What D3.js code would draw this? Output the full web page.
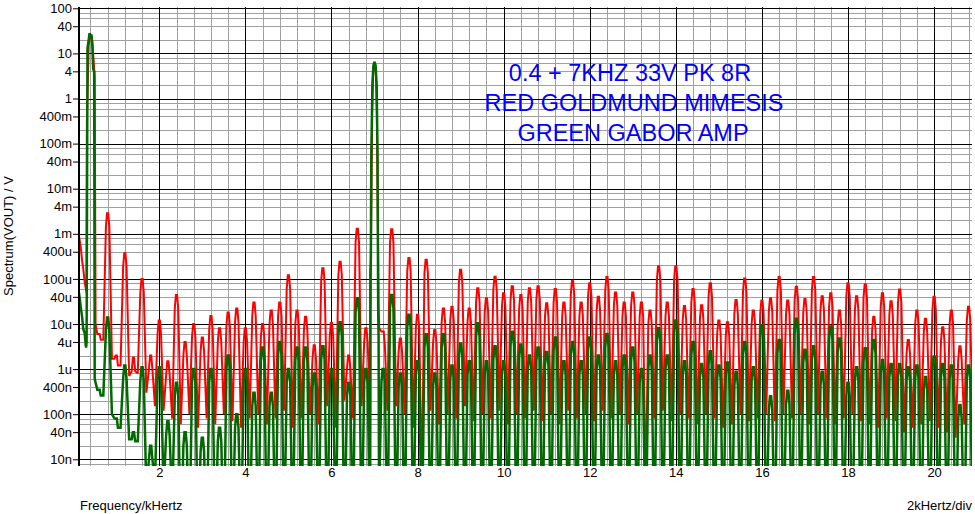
<!DOCTYPE html>
<html>
<head>
<meta charset="utf-8">
<script src="https://cdn.jsdelivr.net/npm/d3@7"></script>
<style>
  html, body { margin: 0; padding: 0; background: #fff; }
  svg { display: block; font-family: "Liberation Sans", Arial, sans-serif; }
</style>
</head>
<body>
<svg id="chart" width="975" height="514"></svg>
<script>
// ---------------- DATA ----------------
// spectral line positions (kHz): harmonics of 0.4 kHz and 7 kHz intermod products
const freqs = [
  0.2,0.4,0.6,0.8,1.0,1.2,1.4,1.6,1.8,2.0,2.2,2.4,2.6,2.8,3.0,3.2,3.4,3.6,3.8,4.0,
  4.2,4.4,4.6,4.8,5.0,5.2,5.4,5.6,5.8,6.0,6.2,6.4,6.6,6.8,7.0,7.2,7.4,7.6,7.8,8.0,
  8.2,8.4,8.6,8.8,9.0,9.2,9.4,9.6,9.8,10.0,10.2,10.4,10.6,10.8,11.0,11.2,11.4,11.6,11.8,12.0,
  12.2,12.4,12.6,12.8,13.0,13.2,13.4,13.6,13.8,14.0,14.2,14.4,14.6,14.8,15.0,15.2,15.4,15.6,15.8,16.0,
  16.2,16.4,16.6,16.8,17.0,17.2,17.4,17.6,17.8,18.0,18.2,18.4,18.6,18.8,19.0,19.2,19.4,19.6,19.8,20.0,
  20.2,20.4,20.6,20.8
];
// RED: Goldmund Mimesis — peak level (V) at each line
const redPeaks = [
  2.2e-4,26,6e-6,2.85e-3,2e-6,3.7e-4,1.8e-6,1.0e-4,2e-6,1.2e-5,
  1.5e-6,4.4e-5,4e-6,1.0e-5,5e-6,1.5e-5,8e-6,1.8e-5,2.2e-5,8e-6,
  3e-5,1e-5,2e-5,3e-5,1.2e-4,2e-5,1.45e-5,3.4e-6,1.72e-4,1.05e-5,
  2.4e-4,2e-6,1.3e-3,8e-6,6.5,6.8e-6,1.26e-3,4.8e-6,2.9e-4,1.6e-5,
  2.65e-4,7.4e-6,2.2e-5,2.4e-5,1.6e-4,2.2e-5,6.2e-5,3.7e-5,1.12e-4,4.8e-5,
  6.9e-5,4.4e-5,6.2e-5,6.9e-5,2.9e-5,6e-5,3e-5,9e-5,3e-5,8e-5,
  4e-5,1.1e-4,5e-5,3e-5,5e-5,3e-5,2e-5,1.9e-4,3e-5,1.9e-4,
  2.5e-5,6e-5,2.6e-5,8e-5,1.2e-5,1.1e-5,3.4e-5,1.02e-4,2e-5,3.3e-5,
  3.7e-5,1.1e-4,3.3e-5,6.7e-5,3.6e-5,1.1e-4,4.1e-5,4.8e-5,2e-5,8e-5,
  4.1e-5,7.6e-5,1.45e-5,4.8e-5,3.2e-5,5.8e-5,4.4e-6,2e-5,1.3e-5,4e-5,
  8.5e-6,2e-5,3.2e-6,2.4e-5
];
// RED: minimum level (V) between each line and the next
const redValleys = [
  5e-5,8e-6,4.5e-6,1.7e-6,1.2e-6,7e-7,8e-7,3e-7,1.5e-7,1.2e-7,
  8e-8,6e-8,1e-7,5e-8,8e-8,6e-8,1e-7,7e-8,5e-8,8e-8,
  1e-7,6e-8,8e-8,1.2e-7,5e-8,8e-8,1e-7,6e-8,1.5e-7,5e-8,
  2e-7,8e-8,1.5e-7,1e-7,1e-7,1.2e-7,1.5e-7,1e-7,5e-8,2e-9,
  1.2e-7,6e-8,1e-7,8e-8,1.5e-7,7e-8,1e-7,8e-8,1.2e-7,6e-8,
  1e-7,8e-8,1.2e-7,7e-8,1e-7,6e-8,1.2e-7,8e-8,1e-7,7e-8,
  1.2e-7,8e-8,1e-7,6e-8,1e-7,2e-9,8e-8,1.2e-7,7e-8,1e-7,
  8e-8,6e-8,1e-7,8e-8,5e-8,6e-8,1e-7,7e-8,8e-8,1e-7,
  7e-8,1e-7,8e-8,1e-7,6e-8,1e-7,8e-8,6e-8,8e-8,1e-7,
  7e-8,6e-8,5e-8,8e-8,7e-8,4e-8,5e-8,6e-8,7e-8,5e-8,
  4e-8,3e-8,6e-8,5e-8
];
// GREEN: Gabor amp — peak level (V) at each line
const greenPeaks = [
  1.7e-5,28,3.5e-7,1.4e-5,8e-8,1.2e-6,4e-8,1.1e-6,2e-8,1.1e-6,
  7e-8,5e-7,4e-8,1e-6,3e-8,1e-6,5e-8,2e-6,1e-7,1e-6,
  3e-7,3e-6,3e-7,4e-6,1e-6,3e-6,3e-6,8e-7,3.2e-6,1e-6,
  1.1e-5,5e-7,3.7e-5,1e-6,6.5,1e-6,4.4e-5,8e-7,1.6e-5,1.5e-6,
  5.9e-6,8e-7,5.9e-6,1.2e-6,3.7e-6,1.5e-6,1.04e-5,1.5e-6,3.2e-6,1.5e-6,
  6.7e-6,3.5e-6,2e-6,3e-6,2.4e-6,5e-6,1.5e-6,4e-6,1.5e-6,5e-6,
  2e-6,6e-6,1.5e-6,2e-6,3e-6,1e-6,2e-6,8e-6,2e-6,1.2e-5,
  1.5e-6,4e-6,1.3e-6,2.5e-6,1.2e-6,1.4e-6,8.7e-7,4e-6,1.1e-6,9.5e-6,
  2.5e-7,4.4e-6,3.3e-7,1.3e-5,2.7e-6,3.2e-6,8.7e-7,8.8e-6,4.8e-6,5e-7,
  1.1e-6,2.9e-6,4.4e-6,1.6e-6,1.3e-6,1.3e-6,1.1e-6,1.2e-6,6.7e-7,1.9e-6,
  1.3e-6,1.2e-6,1.6e-7,1.2e-6
];
// GREEN: minimum level (V) between each line and the next
const greenValleys = [
  5e-6,6e-7,2.6e-7,1e-7,5e-8,2.8e-8,2.5e-8,2e-9,3e-9,2e-9,
  1e-9,1e-10,1e-10,1e-10,1e-10,1e-10,1e-10,1e-10,1e-10,1e-10,
  1e-10,1e-10,1e-10,1e-10,1e-10,1e-10,1e-10,1e-10,1e-10,1e-10,
  1e-10,1e-10,1e-10,1e-10,1e-10,1e-10,1e-10,1e-10,1e-10,1e-10,
  1e-10,1e-10,1e-10,1e-10,1e-10,1e-10,1e-10,1e-10,1e-10,1e-10,
  1e-10,1e-10,1e-10,1e-10,1e-10,1e-10,1e-10,1e-10,1e-10,1e-10,
  1e-10,1e-10,1e-10,1e-10,1e-10,1e-10,1e-10,1e-10,1e-10,1e-10,
  1e-10,1e-10,1e-10,1e-10,1e-10,1e-10,1e-10,1e-10,1e-10,1e-10,
  1e-10,1e-10,1e-10,1e-10,1e-10,1e-10,1e-10,1e-10,1e-10,1e-10,
  1e-10,1e-10,1e-10,1e-10,1e-10,1e-10,1e-10,1e-10,1e-10,1e-10,
  1e-10,1e-10,1e-10,1e-10
];
// low-frequency edge, traced vertex by vertex (kHz, V)
const redEdgeF   = [0.135, 0.175, 0.205, 0.236, 0.268, 0.30];
const redEdgeV   = [8.7e-4, 5.2e-4, 2.6e-4, 1.6e-4, 8.3e-5, 5.6e-5];
const greenEdgeF = [0.135, 0.158, 0.175, 0.205, 0.236, 0.268, 0.29, 0.30];
const greenEdgeV = [4.9e-5, 3.4e-5, 2.4e-5, 1.5e-5, 7.6e-6, 6.3e-6, 3.5e-6, 3e-6];

// the two test tones, traced vertex by vertex (kHz, V)
const redTone400F  = [0.30, 0.31, 0.318, 0.36, 0.40, 0.44, 0.485, 0.50, 0.52];
const redTone400V  = [5.6e-5, 5e-5, 0.3, 15, 26, 20, 5, 3, 1e-5];
const greenTone400F = [0.30, 0.312, 0.332, 0.36, 0.38, 0.40, 0.425, 0.445, 0.465, 0.487, 0.50];
const greenTone400V = [3e-6, 4e-6, 13, 20, 28, 25, 26, 15, 4.5, 4, 6e-7];
const redTone7kF   = [6.90, 6.905, 6.92, 6.945, 6.97, 7.0, 7.03, 7.055, 7.08, 7.095, 7.11];
const redTone7kV   = [1e-7, 1e-5, 1e-3, 0.5, 4, 6.5, 4, 0.5, 1e-3, 2e-5, 8e-6];
const greenTone7kF = [6.90, 6.905, 6.915, 6.925, 6.95, 6.975, 7.0, 7.025, 7.05, 7.07, 7.085, 7.095, 7.105];
const greenTone7kV = [1e-9, 1.5e-4, 2.8e-4, 0.05, 2, 5.5, 6.5, 5.5, 2, 0.05, 2.3e-5, 4.7e-6, 1e-9];
const toneIndex400 = 1;   // index into freqs
const toneIndex7k = 34;

const xTickValues = [2,4,6,8,10,12,14,16,18,20];
const xTickLabels = ["2","4","6","8","10","12","14","16","18","20"];
const yTickValues = [1e-8,4e-8,1e-7,4e-7,1e-6,4e-6,1e-5,4e-5,1e-4,4e-4,1e-3,4e-3,1e-2,4e-2,1e-1,4e-1,1,4,10,40,100];
const yTickLabels = ["10n","40n","100n","400n","1u","4u","10u","40u","100u","400u","1m","4m","10m","40m","100m","400m","1","4","10","40","100"];
const xMinorGrid = [0.4,0.8,1.2,1.6,2.4,2.8,3.2,3.6,4.4,4.8,5.2,5.6,6.4,6.8,7.2,7.6,8.4,8.8,9.2,9.6,
  10.4,10.8,11.2,11.6,12.4,12.8,13.2,13.6,14.4,14.8,15.2,15.6,16.4,16.8,17.2,17.6,18.4,18.8,19.2,19.6,20.4,20.8];
const yMinorMultipliers = [2,4,6,8];
const yDecades = [1e-9,1e-8,1e-7,1e-6,1e-5,1e-4,1e-3,1e-2,1e-1,1,10,100];
const titleLines = ["0.4 + 7KHZ 33V PK 8R","RED GOLDMUND MIMESIS","GREEN GABOR AMP"];
const titleCenters = [630, 634, 633];

// ---------------- CHART ----------------
const svg = d3.select("#chart");
const plot = {left: 79, right: 972, top: 7, bottom: 466};

const x = d3.scaleLinear().domain([0.135, 20.88]).range([plot.left, plot.right]);
const y = d3.scaleLog().domain([1e-8, 100]).range([459.3, 8.3]);

svg.append("defs").append("clipPath").attr("id", "clip")
  .append("rect").attr("x", plot.left).attr("y", plot.top)
  .attr("width", plot.right - plot.left).attr("height", plot.bottom - plot.top);

const grid = svg.append("g").attr("shape-rendering", "crispEdges");
const yMinor = [];
yDecades.forEach(d => yMinorMultipliers.forEach(m => {
  const v = d * m;
  const py = y(v);
  if (py >= plot.top && py <= plot.bottom) yMinor.push(v);
}));
grid.selectAll("line.hmin").data(yMinor).join("line")
  .attr("x1", plot.left).attr("x2", plot.right)
  .attr("y1", d => Math.round(y(d)) + 0.5).attr("y2", d => Math.round(y(d)) + 0.5)
  .attr("stroke", "#a0a0a0").attr("stroke-width", 1);
grid.selectAll("line.vmin").data(xMinorGrid).join("line")
  .attr("y1", plot.top).attr("y2", plot.bottom)
  .attr("x1", d => Math.round(x(d)) + 0.5).attr("x2", d => Math.round(x(d)) + 0.5)
  .attr("stroke", "#a0a0a0").attr("stroke-width", 1);
const yMajor = yDecades.filter(d => y(d) >= plot.top && y(d) <= plot.bottom);
grid.selectAll("line.hmaj").data(yMajor).join("line")
  .attr("x1", plot.left).attr("x2", plot.right)
  .attr("y1", d => Math.round(y(d)) + 0.5).attr("y2", d => Math.round(y(d)) + 0.5)
  .attr("stroke", "#000").attr("stroke-width", 1);
grid.selectAll("line.vmaj").data(xTickValues).join("line")
  .attr("y1", plot.top).attr("y2", plot.bottom)
  .attr("x1", d => Math.round(x(d)) + 0.5).attr("x2", d => Math.round(x(d)) + 0.5)
  .attr("stroke", "#000").attr("stroke-width", 1);

// series paths: each spectral line drawn as a narrow window lobe
const lobe = [[0.04, 0.3], [0.014, 0.0]]; // [offset kHz, drop in decades] (drawing style)
function buildPoints(peaks, valleys, edge, toneA, toneB) {
  const pts = edge[0].map((f, k) => [f, edge[1][k]]);
  freqs.forEach((f, i) => {
    if (i === 0) return; // covered by the traced edge
    const tone = i === toneIndex400 ? toneA : (i === toneIndex7k ? toneB : null);
    if (tone) {
      while (pts.length && pts[pts.length - 1][0] >= tone[0][0]) pts.pop();
      tone[0].forEach((tf, k) => pts.push([tf, tone[1][k]]));
      return;
    }
    const P = peaks[i];
    const vPrev = pts[pts.length - 1][1];
    const vNext = valleys[i];
    lobe.forEach(([o, dr]) => pts.push([f - o, Math.max(P * Math.pow(10, -dr), Math.min(vPrev, P))]));
    lobe.slice().reverse().forEach(([o, dr]) => pts.push([f + o, Math.max(P * Math.pow(10, -dr), Math.min(vNext, P))]));
    pts.push([f + 0.1, vNext]);
  });
  return pts;
}
const line = d3.line().x(d => x(d[0])).y(d => y(d[1]));
const series = svg.append("g").attr("clip-path", "url(#clip)");
series.append("path")
  .datum(buildPoints(redPeaks, redValleys, [redEdgeF, redEdgeV], [redTone400F, redTone400V], [redTone7kF, redTone7kV]))
  .attr("d", line).attr("fill", "none").attr("stroke", "#ff0000")
  .attr("stroke-width", 2).attr("stroke-linejoin", "miter").attr("stroke-miterlimit", 2);
series.append("path")
  .datum(buildPoints(greenPeaks, greenValleys, [greenEdgeF, greenEdgeV], [greenTone400F, greenTone400V], [greenTone7kF, greenTone7kV]))
  .attr("d", line).attr("fill", "none").attr("stroke", "#006a00")
  .attr("stroke-width", 2.5).attr("stroke-linejoin", "miter").attr("stroke-miterlimit", 2);

// y axis
const yAxis = d3.axisLeft(y).tickValues(yTickValues)
  .tickFormat((d, i) => yTickLabels[i]).tickSize(6).tickPadding(1);
const gy = svg.append("g").attr("transform", `translate(${plot.left},0)`).call(yAxis);
gy.select(".domain").remove();
gy.selectAll("text").attr("font-size", 13).attr("fill", "#000")
  .attr("font-family", '"Liberation Sans", Arial, sans-serif');
gy.selectAll("line").attr("stroke", "#000");
svg.append("line").attr("x1", plot.left).attr("x2", plot.left)
  .attr("y1", plot.top).attr("y2", plot.bottom)
  .attr("stroke", "#000").attr("stroke-width", 2);

// x axis labels
const xAxis = d3.axisBottom(x).tickValues(xTickValues)
  .tickFormat((d, i) => xTickLabels[i]).tickSize(0).tickPadding(2);
const gx = svg.append("g").attr("transform", `translate(0,${plot.bottom})`).call(xAxis);
gx.select(".domain").remove();
gx.selectAll("text").attr("font-size", 13).attr("fill", "#000")
  .attr("font-family", '"Liberation Sans", Arial, sans-serif');

// axis titles
svg.append("text").attr("x", 80).attr("y", 510).attr("font-size", 13)
  .text("Frequency/kHertz");
svg.append("text").attr("x", 972).attr("y", 510).attr("font-size", 13)
  .attr("text-anchor", "end").text("2kHertz/div");
svg.append("text").attr("transform", "translate(13,236) rotate(-90)")
  .attr("text-anchor", "middle").attr("font-size", 13).text("Spectrum(VOUT) / V");

// title block
svg.append("g").selectAll("text").data(titleLines).join("text")
  .attr("x", (d, i) => titleCenters[i]).attr("y", (d, i) => 80.5 + i * 30.3)
  .attr("text-anchor", "middle").attr("font-size", 23.5).attr("fill", "#0000ff")
  .text(d => d);
</script>
</body>
</html>
